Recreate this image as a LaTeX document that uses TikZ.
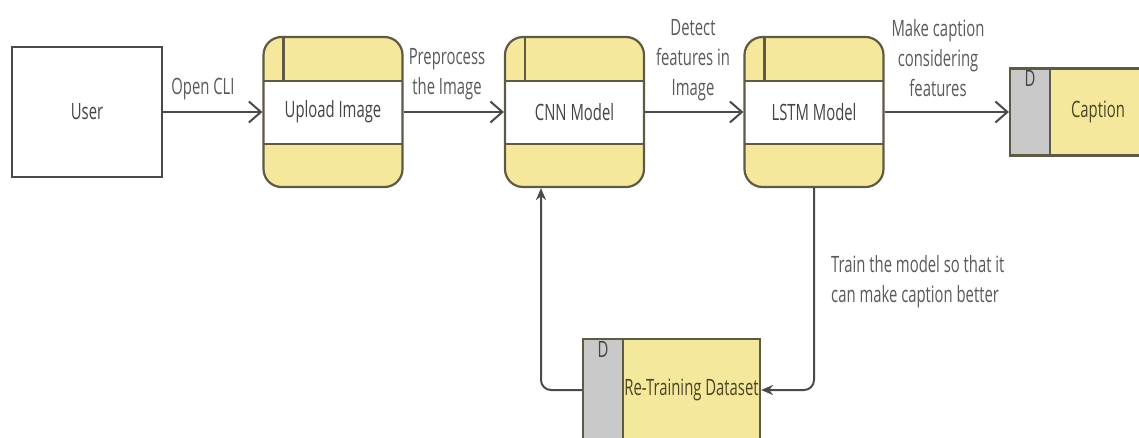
\documentclass[tikz,border=0pt]{standalone}
\usepackage{fontspec}
\setmainfont{Open Sans}[FakeStretch=0.66]
\usetikzlibrary{arrows.meta,calc}

\definecolor{procfill}{HTML}{F5E79C}
\definecolor{procline}{HTML}{5E5A44}
\definecolor{tabgray}{HTML}{C9C9C9}
\definecolor{arrowline}{HTML}{4A4A4A}
\definecolor{txt}{HTML}{5A5A5A}
\definecolor{txtdark}{HTML}{444444}
\definecolor{storetxt}{HTML}{4A4624}

\tikzset{
  every node/.style={font=\fontsize{22.5}{30}\selectfont, text=txt},
  % process: rounded box with a white middle band and a small id cell
  proc/.style={draw=procline, line width=2.2pt, fill=procfill, rounded corners=18pt,
    minimum width=139pt, minimum height=150pt, inner sep=0pt, text=txtdark,
    path picture={
      \fill[white, sharp corners]
        ([yshift=-44pt]path picture bounding box.north west) rectangle
        ([yshift=43pt]path picture bounding box.south east);
      \draw[procline, line width=2.2pt, sharp corners]
        ([yshift=-44pt]path picture bounding box.north west) --
        ([yshift=-44pt]path picture bounding box.north east)
        ([yshift=43pt]path picture bounding box.south west) --
        ([yshift=43pt]path picture bounding box.south east)
        ([xshift=20pt]path picture bounding box.north west) --
        ([xshift=20pt,yshift=-44pt]path picture bounding box.north west);
    }},
  entity/.style={draw=arrowline, line width=2.2pt, fill=white, minimum width=150pt,
    minimum height=130pt, inner sep=0pt, text=txtdark},
  storetab/.style={draw=procline, line width=2.2pt, fill=tabgray, minimum width=40pt,
    inner sep=0pt, label={[anchor=north, inner sep=3pt, text=txtdark]north:D}},
  storebody/.style={draw=procline, line width=2.2pt, fill=procfill, inner sep=0pt,
    text=storetxt},
  flow/.style={draw=arrowline, line width=2pt,
    -{Straight Barb[length=12pt,width=21pt]}},
  back/.style={draw=arrowline, line width=2pt, rounded corners=10pt,
    -{Stealth[length=12pt,width=10pt]}},
  lbl/.style={align=center, inner sep=0pt},
}

\begin{document}
\begin{tikzpicture}[x=1pt, y=-1pt]
  \useasboundingbox[fill=white] (0,0) rectangle (1139,437);

  % external entity
  \node[entity] (user) at (87,112) {User};

  % processes
  \node[proc] (upload) at (333,112) {Upload Image};
  \node[proc] (cnn) at (574.5,112) {CNN Model};
  \node[proc] (lstm) at (814,112) {LSTM Model};

  % data stores
  \node[storetab, minimum height=87pt] (capD) at (1030,112) {};
  \node[storebody, minimum width=96pt, minimum height=87pt] (caption) at (1098,112) {Caption};
  \node[storetab, minimum height=102pt] (retD) at (603,390) {};
  \node[storebody, minimum width=137pt, minimum height=102pt] (retrain) at (691.5,390) {Re-Training Dataset};

  % main flow
  \draw[flow] (user.east) -- (upload.west);
  \draw[flow] (upload.east) -- (cnn.west);
  \draw[flow] (cnn.east) -- (lstm.west);
  \draw[flow] (lstm.east) -- (capD.west);

  % re-training loop
  \draw[back] (lstm.south) |- (retrain.east);
  \draw[back] (retD.west) -| ([xshift=-33.5pt]cnn.south);

  % flow labels
  \node[lbl] (lopen) at (203,89) {Open CLI};
  \node[lbl] (lprep) at (447,74) {Preprocess\\the Image};
  \node[lbl] (ldetect) at (693,60) {Detect\\features in\\Image};
  \node[lbl] (lmake) at (938,58) {Make caption\\considering\\features};
  \node[lbl, anchor=west, align=left] (ltrain) at (831,282)
    {Train the model so that it\\can make caption better};
\end{tikzpicture}
\end{document}
